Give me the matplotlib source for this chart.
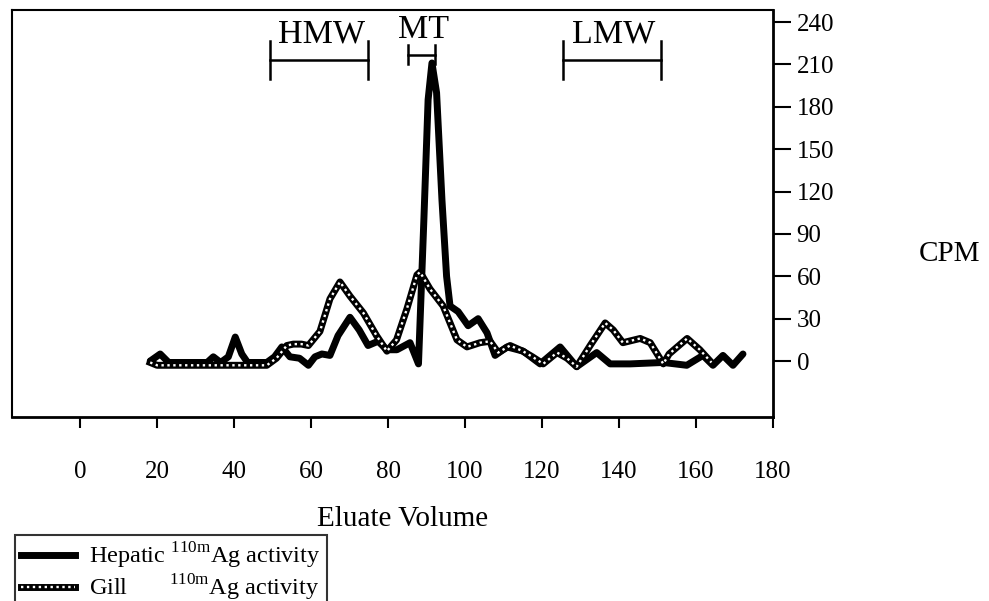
import matplotlib
matplotlib.use("Agg")
import matplotlib.pyplot as plt
from matplotlib.lines import Line2D

plt.rcParams['font.family'] = ['Liberation Serif', 'DejaVu Serif']
plt.rcParams['mathtext.fontset'] = 'custom'
plt.rcParams['mathtext.rm'] = 'Liberation Serif'

# ---- data ----
hep_vol = [18.2, 20.8, 23, 30, 33, 34.6, 36.5, 38.5, 40.3, 42, 43.5, 48.5, 50.5, 52.4,
           54.5, 57, 59.3, 61, 62.8, 64.9, 67, 70.1, 72.5, 74.8, 77.4, 79.7, 82.3, 85.7,
           87.9, 89.3, 90.4, 91.4, 92.6, 94, 95.2, 96.1, 98.2, 100.8, 103.4, 105.7, 107.8,
           110.9, 115.1, 119.5, 124.7, 129, 134.2, 137.7, 142.9, 151.5, 157.6, 161.8,
           164.4, 167, 169.6, 172.2]
hep_cpm = [0, 5, -1, -1, -1, 3, -1, 3, 17, 5, -1, -1, 3, 10,
           3, 2, -3, 3, 5, 4, 18, 31, 22, 11, 14, 8, 8, 13,
           -2, 100, 185, 211, 190, 114, 60, 39, 35, 25, 30, 20, 4,
           10, 7, -2, 10, -4, 6, -2, -2, -1, -3, 4,
           -3, 4, -3, 5]

gill_vol = [18.2, 20, 25, 30, 35, 40, 45, 48.5, 51, 53.7, 55.4, 57.5, 59.3, 62.3, 64.9,
            67.5, 70.1, 73.6, 77, 79.7, 82.2, 84.9, 87.5, 88.3, 90.9, 94.3, 97.9, 100.5,
            103.9, 106.5, 108.6, 111.7, 115, 117.5, 120.3, 123.9, 126.5, 129, 132.5,
            136.4, 138.5, 141, 145.5, 148.1, 151.5, 153, 157.7, 161, 164]
gill_cpm = [-1, -3, -3, -3, -3, -3, -3, -3, 2, 11, 12, 12, 11, 21, 44,
            56, 46, 34, 18, 7, 15, 37, 61, 63, 51, 39, 15, 10,
            13, 14, 6, 11, 7, 3, -2, 6, 2, -4, 11,
            27, 22, 13, 16, 13, -2, 5, 16, 8, -1]

fraction_names = ["HMW", "MT", "LMW"]
fraction_start = [49.4, 85.2, 125.5]
fraction_end = [74.8, 92.2, 150.9]

x_ticks = [0, 20, 40, 60, 80, 100, 120, 140, 160, 180]
y_ticks = [0, 30, 60, 90, 120, 150, 180, 210, 240]

# ---- figure ----
fig = plt.figure(figsize=(9.89, 6.01), dpi=100)
ax = fig.add_axes([12/989, 1-417/601, (773-12)/989, (417-10)/601])

ax.plot(hep_vol, hep_cpm, color='black', lw=5, solid_joinstyle='round',
        solid_capstyle='round', zorder=3)
g1, = ax.plot(gill_vol, gill_cpm, color='black', lw=5, solid_joinstyle='round', zorder=4)
g2, = ax.plot(gill_vol, gill_cpm, color='white', lw=1.7, linestyle=(0, (1.0, 1.5)), zorder=5)

# fraction brackets
bar_y = [213, 217, 213]
half = [13.5, 6.5, 13.5]
for name, s, e, by, h in zip(fraction_names, fraction_start, fraction_end, bar_y, half):
    ax.plot([s, e], [by, by], color='black', lw=1.8, zorder=2)
    ax.plot([s, s], [by - h, by + h], color='black', lw=1.8, zorder=2)
    ax.plot([e, e], [by - h, by + h], color='black', lw=1.8, zorder=2)
    ty = by + h - 6 if name != "MT" else by + h + 0.5
    ax.text((s + e) / 2 + 0.5, ty, name, ha='center', va='bottom', fontsize=24.5)

ax.set_xlim(-17.7, 180)
ax.set_ylim(-39.6, 248.5)

ax.set_xticks(x_ticks)
ax.set_xticklabels([str(v) for v in x_ticks])
ax.set_yticks(y_ticks)
ax.set_yticklabels([str(v) for v in y_ticks])
ax.yaxis.tick_right()
ax.tick_params(axis='x', direction='out', length=8, width=1.5, pad=24, labelsize=18)
ax.tick_params(axis='y', direction='out', length=13, width=1.5, pad=4, labelsize=18)

for side in ['left', 'top']:
    ax.spines[side].set_linewidth(1.5)
for side in ['right', 'bottom']:
    ax.spines[side].set_linewidth(2.0)

fig.text(403/989, 1-526/601, "Eluate Volume", ha='center', va='baseline', fontsize=21)
fig.text(949/989, 1-254/601, "CPM", ha='center', va='center', fontsize=21)

h_hep = Line2D([], [], color='black', lw=5)
leg = fig.legend([h_hep, (g1, g2)],
                 [r"Hepatic $^{\mathrm{110m}}$Ag activity",
                  r"Gill       $^{\mathrm{110m}}$Ag activity"],
                 loc='upper left', bbox_to_anchor=(15/989, 1-535/601),
                 bbox_transform=fig.transFigure, borderaxespad=0,
                 fontsize=17.5, frameon=True, fancybox=False, handlelength=2.2,
                 handletextpad=0.6, labelspacing=0.05, borderpad=0.25)
leg.get_frame().set_edgecolor('black')
leg.get_frame().set_linewidth(1.5)

fig.savefig("out.png", dpi=100)
